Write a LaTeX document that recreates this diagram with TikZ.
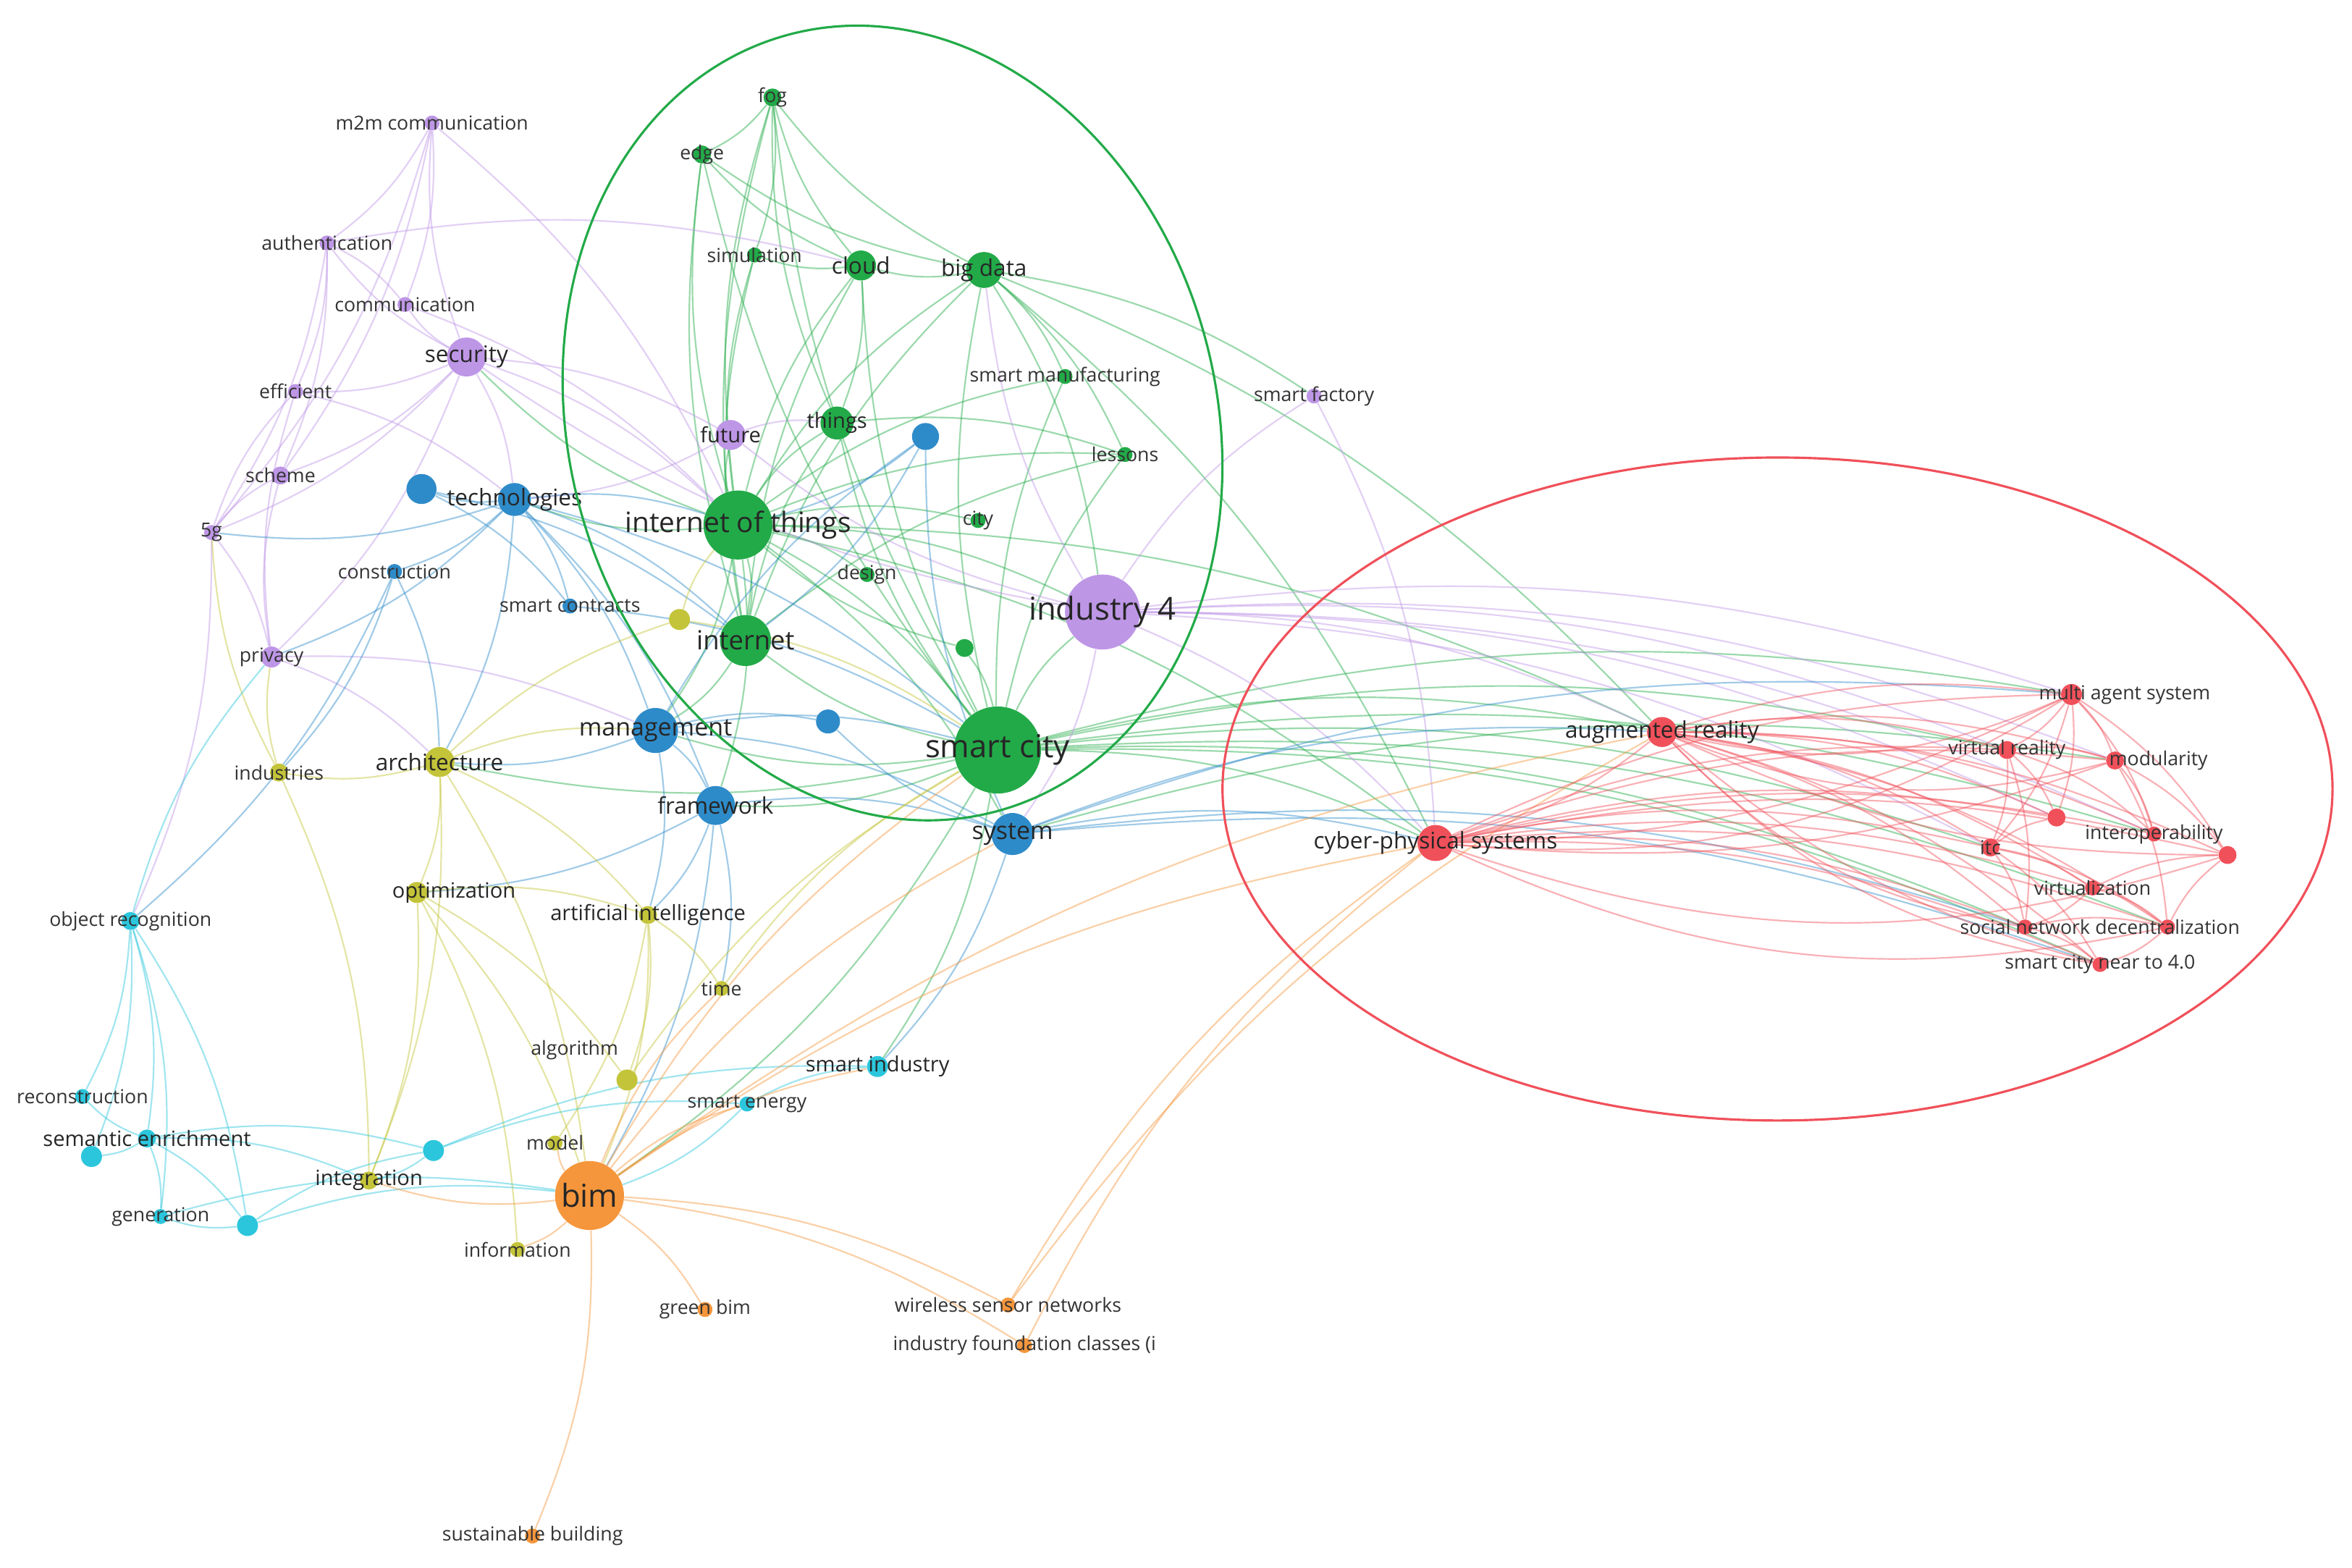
\documentclass[tikz,border=0pt]{standalone}
\usepackage{fontspec}
\setmainfont{Open Sans}
\usetikzlibrary{backgrounds}
\definecolor{cg}{HTML}{22AA48}
\definecolor{cp}{HTML}{BE96E6}
\definecolor{cb}{HTML}{2E8BC9}
\definecolor{cy}{HTML}{C4C43A}
\definecolor{cc}{HTML}{2CC6DC}
\definecolor{co}{HTML}{F5963C}
\definecolor{cr}{HTML}{F0505A}
\tikzset{
  d/.style 2 args={circle,fill=#1,inner sep=0pt,minimum size=#2*0.03cm},
  l/.style={font=\fontsize{11}{12}\selectfont,text=black!80},
  L/.style={font=\fontsize{#1}{#1}\selectfont,text=black!85},
  e/.style={line width=0.9pt,opacity=0.45}
}
\newcommand{\nd}[6]{\node[d={#1}{#2}] (#3) at (#4) {}; \node[#5] at (#3) {#6};}
\begin{document}
\begin{tikzpicture}[x=0.03cm,y=-0.03cm]
\useasboundingbox (0,0) rectangle (1568,1045);
% green
\nd{cg}{12}{fog}{515,65}{l}{fog}
\nd{cg}{12}{edge}{468,103}{l}{edge}
\nd{cg}{10}{sim}{503,170}{l}{simulation}
\nd{cg}{20}{cloud}{574,177}{L=13}{cloud}
\nd{cg}{24}{bigd}{656,180}{L=13}{big data}
\nd{cg}{10}{smf}{710,251}{l}{smart manufacturing}
\nd{cg}{22}{things}{558,282}{L=12}{things}
\nd{cg}{10}{lessons}{750,303}{l}{lessons}
\nd{cg}{46}{iot}{492,350}{L=16}{internet of things}
\nd{cg}{34}{inet}{497,427}{L=15}{internet}
\nd{cg}{10}{city}{652,347}{l}{city}
\nd{cg}{10}{design}{578,383}{l}{design}
\nd{cg}{58}{sc}{665,500}{L=18}{smart city}
\nd{cg}{12}{g1}{643,432}{l}{}
% purple
\nd{cp}{10}{m2m}{288,82}{l}{m2m communication}
\nd{cp}{10}{auth}{218,162}{l}{authentication}
\nd{cp}{10}{comm}{270,203}{l}{communication}
\nd{cp}{26}{sec}{311,238}{L=13}{security}
\nd{cp}{10}{eff}{197,261}{l}{efficient}
\nd{cp}{12}{scheme}{187,317}{l}{scheme}
\nd{cp}{10}{fiveg}{141,355}{l}{5g}
\nd{cp}{14}{priv}{181,438}{l}{privacy}
\nd{cp}{20}{future}{487,290}{L=12}{future}
\nd{cp}{50}{ind4}{735,408}{L=18}{industry 4}
\nd{cp}{10}{sfac}{876,264}{l}{smart factory}
% blue
\nd{cb}{20}{b0}{281,326}{l}{}
\nd{cb}{22}{tech}{343,333}{L=13}{technologies}
\nd{cb}{10}{constr}{263,381}{l}{construction}
\nd{cb}{10}{scon}{380,404}{l}{smart contracts}
\nd{cb}{30}{mgmt}{437,487}{L=14}{management}
\nd{cb}{26}{frame}{477,537}{L=13}{framework}
\nd{cb}{28}{sys}{675,556}{L=14}{system}
\nd{cb}{18}{b1}{617,291}{l}{}
\nd{cb}{16}{b2}{552,481}{l}{}
% yellow
\nd{cy}{12}{indus}{186,515}{l}{industries}
\nd{cy}{20}{arch}{293,508}{L=13}{architecture}
\nd{cy}{14}{opt}{278,595}{L=12}{\hspace{3.5em}optimization}
\nd{cy}{12}{ai}{432,610}{L=12}{artificial intelligence}
\nd{cy}{10}{time}{481,659}{l}{time}
\nd{cy}{14}{algo}{418,720}{l}{}
\node[l] at (383,700) {algorithm};
\nd{cy}{12}{integ}{246,787}{L=12}{integration}
\nd{cy}{10}{info}{345,833}{l}{information}
\nd{cy}{10}{model}{370,762}{l}{model}
\nd{cy}{14}{y1}{453,413}{l}{}
% cyan
\nd{cc}{12}{objr}{87,614}{l}{object recognition}
\nd{cc}{10}{recon}{55,731}{l}{reconstruction}
\nd{cc}{12}{sem}{98,759}{L=12}{semantic enrichment}
\nd{cc}{14}{c1}{61,771}{l}{}
\nd{cc}{10}{gen}{107,811}{l}{generation}
\nd{cc}{14}{c2}{165,817}{l}{}
\nd{cc}{14}{c3}{289,767}{l}{}
\nd{cc}{10}{sen}{498,736}{l}{smart energy}
\nd{cc}{14}{sind}{585,711}{L=12}{smart industry}
% orange
\nd{co}{46}{bim}{393,797}{L=18}{bim}
\nd{co}{10}{gbim}{470,873}{l}{green bim}
\nd{co}{10}{wsn}{672,870}{l}{wireless sensor networks}
\nd{co}{10}{ifc}{683,897}{l}{industry foundation classes (i}
\nd{co}{10}{sus}{355,1024}{l}{sustainable building}
% red
\nd{cr}{20}{ar}{1108,488}{L=13}{augmented reality}
\nd{cr}{24}{cps}{957,562}{L=13}{cyber-physical systems}
\nd{cr}{14}{mas}{1381,463}{l}{\hspace{5.5em}multi agent system}
\nd{cr}{12}{vr}{1338,500}{l}{virtual reality}
\nd{cr}{12}{mod}{1410,507}{l}{\hspace{4.5em}modularity}
\nd{cr}{10}{inter}{1436,556}{l}{interoperability}
\nd{cr}{12}{itc}{1327,565}{l}{itc}
\nd{cr}{12}{r1}{1371,545}{l}{}
\nd{cr}{12}{r2}{1485,570}{l}{}
\nd{cr}{10}{virt}{1395,592}{l}{virtualization}
\nd{cr}{10}{soc}{1350,618}{l}{social network}
\nd{cr}{10}{dec}{1445,618}{l}{decentralization}
\nd{cr}{10}{scn}{1400,643}{l}{smart city near to 4.0}
% ellipses
\draw[cg,line width=1.3pt] (595,282) ellipse [x radius=216,y radius=268,rotate=15];
\draw[cr,line width=1.3pt] (1185,526) ellipse [x radius=370,y radius=221];
\begin{pgfonlayer}{background}
\foreach \a/\b in {iot/fog,iot/edge,iot/sim,iot/cloud,iot/bigd,iot/smf,iot/things,iot/lessons,iot/inet,iot/city,iot/design,iot/sc,iot/ind4,iot/sec,iot/tech,iot/mgmt,iot/frame,iot/sys,iot/future,iot/cps,iot/ar,
sc/fog,sc/edge,sc/cloud,sc/bigd,sc/things,sc/smf,sc/lessons,sc/ind4,sc/cps,sc/ar,sc/mas,sc/vr,sc/itc,sc/soc,sc/scn,sc/bim,sc/sind,sc/mgmt,sc/frame,sc/inet,sc/arch,sc/inter,sc/dec,
inet/fog,inet/cloud,inet/bigd,inet/edge,inet/things,inet/mgmt,inet/sim,inet/lessons,bigd/fog,bigd/edge,bigd/cloud,bigd/smf,bigd/lessons,bigd/ind4,bigd/sfac,bigd/cps,bigd/ar,cloud/fog,cloud/edge,cloud/sim,cloud/things,things/fog,things/lessons,fog/edge,fog/sim,g1/sc,g1/iot,sys/mod}
  \draw[e,cg] (\a) to[bend left=12] (\b);
\foreach \a/\b in {ind4/sec,ind4/future,ind4/ar,ind4/cps,ind4/mas,ind4/vr,ind4/mod,ind4/itc,ind4/sfac,ind4/sys,ind4/bigd,ind4/inter,ind4/r1,sec/m2m,sec/auth,sec/comm,sec/eff,sec/scheme,sec/fiveg,sec/priv,sec/tech,sec/future,sec/iot,m2m/auth,m2m/comm,m2m/fiveg,m2m/scheme,m2m/iot,auth/comm,auth/scheme,auth/eff,auth/fiveg,auth/cloud,fiveg/priv,fiveg/scheme,fiveg/eff,fiveg/objr,priv/scheme,priv/eff,priv/mgmt,priv/arch,future/tech,future/things,sfac/cps,comm/iot,eff/tech}
  \draw[e,cp] (\a) to[bend left=12] (\b);
\foreach \a/\b in {tech/b0,tech/constr,tech/scon,tech/mgmt,tech/frame,tech/iot,tech/inet,tech/sc,tech/arch,tech/priv,tech/fiveg,mgmt/frame,mgmt/sc,mgmt/sys,mgmt/ai,mgmt/arch,mgmt/b2,mgmt/b1,frame/sys,frame/bim,frame/opt,frame/ai,frame/time,sys/ar,sys/cps,sys/mas,sys/scn,sys/soc,sys/b1,sys/b2,sys/sind,constr/arch,constr/indus,constr/objr,b1/iot,b1/inet,b0/scon,b0/inet,scon/sc}
  \draw[e,cb] (\a) to[bend left=12] (\b);
\foreach \a/\b in {arch/indus,arch/opt,arch/integ,arch/ai,arch/bim,arch/mgmt,arch/y1,opt/ai,opt/integ,opt/bim,opt/algo,opt/info,ai/time,ai/bim,ai/algo,ai/model,indus/integ,indus/fiveg,y1/iot,y1/sc,algo/sc,time/sc,indus/priv}
  \draw[e,cy] (\a) to[bend left=12] (\b);
\foreach \a/\b in {objr/recon,objr/sem,objr/c1,objr/gen,objr/priv,objr/c2,sem/recon,sem/c1,sem/gen,sem/c2,sem/c3,sem/integ,c2/c3,c2/gen,c2/bim,c3/sen,c3/sind,c3/integ,sen/sind,sen/bim,gen/bim}
  \draw[e,cc] (\a) to[bend left=12] (\b);
\foreach \a/\b in {bim/gbim,bim/wsn,bim/ifc,bim/sus,bim/ar,bim/cps,bim/model,bim/info,bim/integ,bim/sind,bim/sen,bim/time,bim/sys,wsn/cps,wsn/ar,ifc/cps,bim/sc}
  \draw[e,co] (\a) to[bend left=12] (\b);
\foreach \a/\b in {ar/cps,ar/mas,ar/vr,ar/mod,ar/inter,ar/itc,ar/r1,ar/r2,ar/virt,ar/soc,ar/dec,ar/scn,cps/mas,cps/vr,cps/mod,cps/inter,cps/itc,cps/virt,cps/soc,cps/dec,cps/scn,cps/r1,cps/r2,mas/vr,mas/mod,mas/r1,mas/r2,mas/itc,mas/inter,vr/mod,vr/itc,vr/r1,vr/inter,vr/soc,mod/r2,mod/inter,mod/dec,itc/virt,itc/soc,itc/dec,itc/scn,itc/r1,virt/soc,virt/dec,virt/r2,soc/dec,soc/scn,dec/scn,dec/r2,mas/cps,r2/ar,scn/ar,mod/cps}
  \draw[e,cr] (\a) to[bend left=12] (\b);
\foreach \a/\b in {ar/mas,ar/scn,cps/dec,cps/mas,ar/soc,cps/r2,ar/mod}
  \draw[e,cr] (\a) to[bend right=18] (\b);
\end{pgfonlayer}
\end{tikzpicture}
\end{document}
